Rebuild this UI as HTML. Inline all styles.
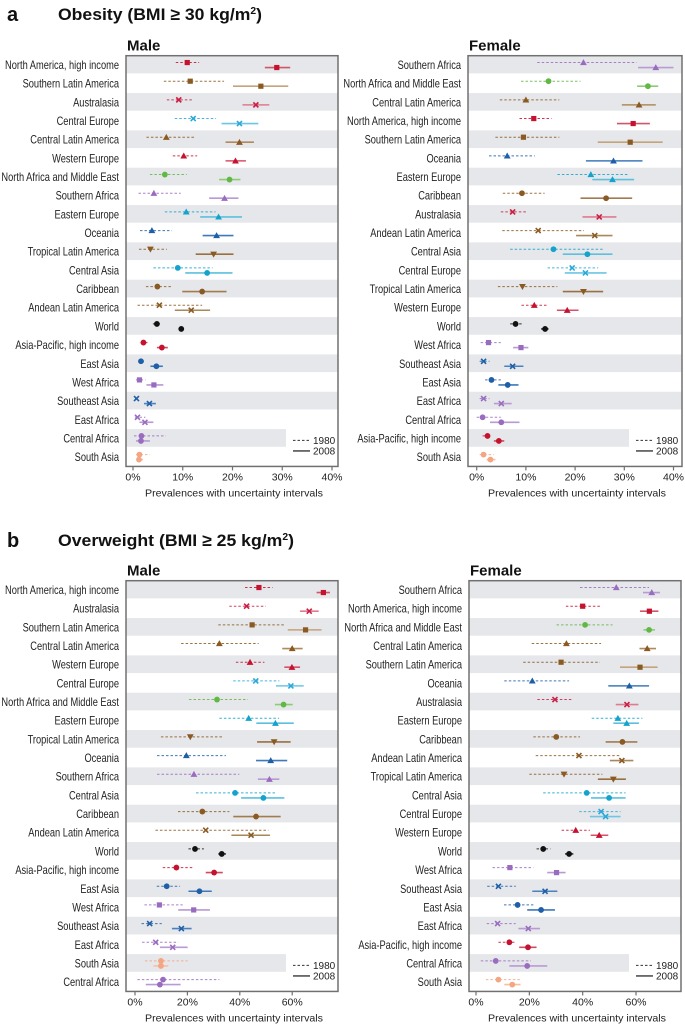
<!DOCTYPE html>
<html><head><meta charset="utf-8"><style>
html,body{margin:0;padding:0;background:#fff;}
svg{display:block;font-family:"Liberation Sans",sans-serif;}
</style></head><body>
<svg id="chart" width="685" height="1026" viewBox="0 0 685 1026" xmlns="http://www.w3.org/2000/svg">
<text x="7" y="21" font-size="20" font-weight="bold" fill="#111">a</text>
<text x="58" y="20" font-size="17" font-weight="bold" fill="#111" textLength="204" lengthAdjust="spacingAndGlyphs">Obesity (BMI ≥ 30 kg/m<tspan font-size="10" dy="-6">2</tspan><tspan dy="6">)</tspan></text>
<text x="7" y="547" font-size="20" font-weight="bold" fill="#111">b</text>
<text x="58" y="546" font-size="17" font-weight="bold" fill="#111" textLength="236" lengthAdjust="spacingAndGlyphs">Overweight (BMI ≥ 25 kg/m<tspan font-size="10" dy="-6">2</tspan><tspan dy="6">)</tspan></text>
</svg>
<script>
// ---------- data ----------
const maleObRegions = ["North America, high income","Southern Latin America","Australasia","Central Europe","Central Latin America","Western Europe","North Africa and Middle East","Southern Africa","Eastern Europe","Oceania","Tropical Latin America","Central Asia","Caribbean","Andean Latin America","World","Asia-Pacific, high income","East Asia","West Africa","Southeast Asia","East Africa","Central Africa","South Asia"];
const maleOb80 = [10.9,11.5,9.2,12.1,6.7,10.2,6.4,4.2,10.7,3.8,3.5,9.0,4.9,5.3,4.8,2.1,1.6,1.3,0.7,0.9,1.7,1.3];
const maleOb80lo = [8.6,6.2,6.8,8.4,2.7,8.0,3.4,1.1,6.4,1.4,1.2,4.1,2.6,0.9,4.0,1.5,1.2,0.6,0.4,0.4,0.2,0.6];
const maleOb80hi = [13.3,18.3,12.1,16.7,12.5,12.9,10.8,9.6,16.6,7.8,6.8,16.0,8.0,13.9,5.6,3.3,2.2,2.5,1.2,2.5,6.6,3.4];
const maleOb08 = [28.9,25.7,24.7,21.4,21.4,20.6,19.4,18.4,17.2,16.8,16.2,14.9,13.9,11.7,9.7,5.8,4.7,4.2,3.3,2.4,1.6,1.2];
const maleOb08lo = [26.5,20.1,22.0,17.8,18.6,18.6,17.3,15.3,13.5,14.0,12.6,10.5,9.9,8.4,9.3,4.8,3.5,2.7,2.2,1.3,0.6,0.7];
const maleOb08hi = [31.6,31.2,27.4,25.2,24.3,22.7,21.6,21.2,21.9,20.2,20.2,20.0,18.8,15.5,10.1,7.0,6.0,6.1,4.6,4.1,3.4,2.0];

const femObRegions = ["Southern Africa","North Africa and Middle East","Central Latin America","North America, high income","Southern Latin America","Oceania","Eastern Europe","Caribbean","Australasia","Andean Latin America","Central Asia","Central Europe","Tropical Latin America","Western Europe","World","West Africa","Southeast Asia","East Asia","East Africa","Central Africa","Asia-Pacific, high income","South Asia"];
const femOb80 = [21.7,14.6,10.0,11.6,9.5,6.2,23.2,9.2,7.3,12.5,15.6,19.4,9.3,11.7,7.9,2.4,1.4,3.0,1.4,1.2,2.2,1.4];
const femOb80lo = [12.3,9.0,4.7,8.7,3.8,2.5,16.4,5.3,4.9,5.2,6.8,14.4,4.3,9.1,6.8,0.8,0.6,1.7,0.6,0.0,1.2,0.6];
const femOb80hi = [32.5,21.1,16.8,15.2,16.8,11.8,30.9,13.8,10.0,21.8,25.9,24.7,16.4,14.2,9.3,4.9,2.6,4.9,2.6,4.9,2.9,3.5];
const femOb08 = [36.4,34.8,33.0,31.8,31.2,27.8,27.6,26.3,24.9,24.0,22.5,22.1,21.7,18.4,13.9,9.0,7.3,6.3,5.0,5.0,4.5,2.8];
const femOb08lo = [32.8,32.6,29.5,28.5,24.6,22.2,23.5,21.1,21.5,20.2,17.5,17.9,17.5,16.3,13.1,7.4,5.6,4.4,3.5,2.7,3.5,2.0];
const femOb08hi = [40.0,36.9,36.4,35.2,37.8,33.7,32.0,31.6,28.4,27.6,27.6,26.4,25.7,20.7,14.6,10.5,9.5,8.5,7.1,8.7,5.6,3.8];

const maleOwRegions = ["North America, high income","Australasia","Southern Latin America","Central Latin America","Western Europe","Central Europe","North Africa and Middle East","Eastern Europe","Tropical Latin America","Oceania","Southern Africa","Central Asia","Caribbean","Andean Latin America","World","Asia-Pacific, high income","East Asia","West Africa","Southeast Asia","East Africa","South Asia","Central Africa"];
const maleOw80 = [47.3,42.6,44.7,32.2,43.9,46.1,31.3,43.4,21.1,19.6,22.5,38.2,25.7,27.0,22.9,15.8,12.1,9.3,5.6,7.9,9.9,10.7];
const maleOw80lo = [42.0,36.0,31.8,17.6,38.5,37.5,20.6,32.2,9.9,8.4,8.4,23.3,16.4,7.8,20.4,10.6,8.3,3.6,2.5,2.7,3.8,0.9];
const maleOw80hi = [52.5,49.9,57.5,47.2,49.4,55.1,43.1,55.0,33.8,34.7,39.8,53.8,36.0,50.9,26.3,21.9,17.2,18.2,10.2,16.5,20.1,32.2];
const maleOw08 = [71.9,66.5,65.1,60.0,59.9,59.5,56.7,53.6,53.1,51.8,51.3,49.0,46.2,44.3,33.1,30.2,24.6,22.4,17.7,14.4,9.9,9.5];
const maleOw08lo = [69.3,63.0,58.3,56.2,57.0,53.8,53.4,46.3,46.6,46.2,46.9,40.5,37.5,36.8,31.8,27.0,20.4,16.5,14.1,9.5,7.0,4.1];
const maleOw08hi = [74.4,70.1,71.2,64.0,63.0,64.4,60.2,60.6,59.4,58.1,55.1,57.0,55.6,51.5,34.7,33.5,29.3,28.6,21.6,20.1,12.7,17.4];

const femOwRegions = ["Southern Africa","North America, high income","North Africa and Middle East","Central Latin America","Southern Latin America","Oceania","Australasia","Eastern Europe","Caribbean","Andean Latin America","Tropical Latin America","Central Asia","Central Europe","Western Europe","World","West Africa","Southeast Asia","East Asia","East Africa","Asia-Pacific, high income","Central Africa","South Asia"];
const femOw80 = [52.6,40.0,40.9,33.9,31.9,21.1,29.6,53.2,30.1,38.6,33.0,41.5,46.9,37.4,25.2,12.7,8.4,15.6,8.1,12.5,7.4,8.4];
const femOw80lo = [39.0,33.7,30.2,20.9,17.7,10.6,23.0,43.4,21.5,22.4,20.0,25.2,38.7,32.1,22.7,6.2,4.2,10.5,4.0,8.4,1.8,3.7];
const femOw80hi = [64.9,46.5,51.2,46.9,46.5,34.9,36.5,62.4,39.0,54.0,47.4,56.1,54.2,42.7,27.9,21.5,14.9,21.5,14.9,14.6,20.6,17.1];
const femOw08 = [65.9,65.0,64.9,64.2,61.5,57.5,56.6,56.5,54.9,54.7,51.5,49.9,48.6,46.2,34.9,30.2,25.9,24.4,19.6,19.5,19.2,13.6];
const femOw08lo = [62.6,61.5,62.8,61.3,54.0,49.6,52.4,51.5,48.6,50.2,45.7,43.1,42.7,43.0,33.4,26.7,21.1,19.2,15.9,16.2,12.5,10.6];
const femOw08hi = [69.0,68.4,67.1,67.5,68.1,64.9,60.9,61.1,60.5,59.0,56.2,56.1,54.2,49.6,36.5,33.6,30.5,29.6,24.0,22.7,26.7,16.7];

const obTicks = [0,10,20,30,40];
const owTicks = [0,20,40,60];

// region styles
const regionStyle = {
 "North America, high income":["#c4122f","#d0566a","square"],
 "Southern Latin America":["#8a5a22","#c4a47a","square"],
 "Australasia":["#c91f45","#e07a8e","x"],
 "Central Europe":["#2aa8d8","#6cc6e6","x"],
 "Central Latin America":["#8a5a22","#b08a5a","tri"],
 "Western Europe":["#c4122f","#d9506a","tri"],
 "North Africa and Middle East":["#62b844","#8ccc74","circle"],
 "Southern Africa":["#9a6cc0","#b89ad4","tri"],
 "Eastern Europe":["#14a3cc","#5cc0de","tri"],
 "Oceania":["#1f5fa8","#3f79ba","tri"],
 "Tropical Latin America":["#8a5a22","#9a7040","dtri"],
 "Central Asia":["#14a3cc","#5cc0de","circle"],
 "Caribbean":["#8a5a22","#a07c50","circle"],
 "Andean Latin America":["#8a5a22","#a88758","x"],
 "World":["#111111","#333333","circle"],
 "Asia-Pacific, high income":["#c4122f","#d24a62","circle"],
 "East Asia":["#1f5fa8","#3f79ba","circle"],
 "West Africa":["#9a6cc0","#b89ad4","square"],
 "Southeast Asia":["#1f5fa8","#4a82c0","x"],
 "East Africa":["#9a6cc0","#b89ad4","x"],
 "Central Africa":["#9a6cc0","#b89ad4","circle"],
 "South Asia":["#f4a582","#f7bfa4","circle"]
};

const NS="http://www.w3.org/2000/svg";
const svg=document.getElementById('chart');
function mk(tag,attrs,parent){const e=document.createElementNS(NS,tag);for(const k in attrs)e.setAttribute(k,attrs[k]);(parent||svg).appendChild(e);return e;}

function marker(g,type,cx,cy,col){
  let e;
  if(type==="square"){e=mk('rect',{x:cx-2.6,y:cy-2.6,width:5.2,height:5.2,fill:col},g);}
  else if(type==="circle"){e=mk('circle',{cx:cx,cy:cy,r:2.9,fill:col},g);}
  else if(type==="tri"){e=mk('polygon',{points:`${cx},${cy-3.4} ${cx-3.4},${cy+2.6} ${cx+3.4},${cy+2.6}`,fill:col},g);}
  else if(type==="dtri"){e=mk('polygon',{points:`${cx},${cy+3.4} ${cx-3.4},${cy-2.6} ${cx+3.4},${cy-2.6}`,fill:col},g);}
  else {e=mk('path',{d:`M${cx-2.5},${cy-2.5}L${cx+2.5},${cy+2.5}M${cx+2.5},${cy-2.5}L${cx-2.5},${cy+2.5}`,stroke:col,'stroke-width':1.6,fill:'none'},g);}
  return e;
}

function panel(cfg){
  const g=mk('g',{});
  
  
  const rowH=18.67, top=cfg.top, L=cfg.left, R=cfg.right, n=cfg.regions.length;
  const bottom=top+rowH*n;
  const xs=v=>cfg.x0+v*cfg.k;
  // header
  const h=mk('text',{x:L+1,y:top-5,'font-size':15,'font-weight':'bold',fill:'#111'},g);
  h.textContent=cfg.header;
  
  
  // bands
  for(let i=0;i<n;i+=2){
    const w=(i===n-2)?(cfg.legendX-L):(R-L);
    const b=mk('rect',{x:L,y:top+i*rowH,width:w,height:rowH-1,fill:'#e6e7ea'},g);
    
    
  }
  // labels (condensed)
  const lg=mk('g',{transform:`translate(${L-7},0) scale(0.8,1)`},g);
  cfg.regions.forEach((r,i)=>{
    const t=mk('text',{x:0,y:top+i*rowH+rowH/2+4,'font-size':11.6,'text-anchor':'end',fill:'#222'},lg);
    t.textContent=r;
    
    
  });
  // series
  cfg.regions.forEach((r,i)=>{
    const st=regionStyle[r];const cy=top+i*rowH+rowH/2;
    const rg=mk('g',{},g);
    
    
    const y1=cy-2.5,y2=cy+2.5;
    const l1=mk('line',{x1:xs(cfg.lo80[i]),x2:xs(cfg.hi80[i]),y1:y1,y2:y1,stroke:st[0],'stroke-width':1,'stroke-dasharray':'2.5,2',opacity:0.85},rg);
    
    
    const l2=mk('line',{x1:xs(cfg.lo08[i]),x2:xs(cfg.hi08[i]),y1:y2,y2:y2,stroke:st[1],'stroke-width':1.6},rg);
    
    
    const m1=marker(rg,st[2],xs(cfg.m80[i]),y1,st[0]);
    
    
    const m2=marker(rg,st[2],xs(cfg.m08[i]),y2,st[0]);
    
    
  });
  // frame
  const f=mk('rect',{x:L,y:top,width:R-L,height:bottom-top,fill:'none',stroke:'#707070','stroke-width':1.5},g);
  
  
  // ticks
  cfg.ticks.forEach(v=>{
    const tk=mk('line',{x1:xs(v),x2:xs(v),y1:bottom,y2:bottom+4,stroke:'#707070','stroke-width':1.2},g);
    
    
    const tl=mk('text',{x:xs(v),y:bottom+14,'font-size':10.5,'text-anchor':'middle',fill:'#222'},g);
    tl.textContent=v+'%';
    
    
  });
  const xl=mk('text',{x:(L+R)/2+2,y:bottom+30,'font-size':10.5,'text-anchor':'middle',fill:'#222',textLength:178,lengthAdjust:'spacingAndGlyphs'},g);
  xl.textContent='Prevalences with uncertainty intervals';
  
  
  // legend
  const ly1=top+(n-2)*rowH+rowH/2+2, ly2=ly1+10.5;
  const lx=cfg.legendX+7;
  const a=mk('line',{x1:lx,x2:lx+17,y1:ly1,y2:ly1,stroke:'#333','stroke-width':1,'stroke-dasharray':'2.5,2'},g);
  
  
  const at=mk('text',{x:lx+20,y:ly1+3.5,'font-size':10,fill:'#222'},g);at.textContent='1980';
  
  
  const b2=mk('line',{x1:lx,x2:lx+17,y1:ly2,y2:ly2,stroke:'#555','stroke-width':1.6},g);
  
  
  const bt=mk('text',{x:lx+20,y:ly2+3.5,'font-size':10,fill:'#222'},g);bt.textContent='2008';
  
  
}

panel({name:'obesity-male-panel',header:'Male',top:55.7,left:126,right:338,legendX:286,x0:133,k:4.975,ticks:obTicks,
  regions:maleObRegions,m80:maleOb80,lo80:maleOb80lo,hi80:maleOb80hi,m08:maleOb08,lo08:maleOb08lo,hi08:maleOb08hi});
panel({name:'obesity-female-panel',header:'Female',top:55.7,left:468,right:682,legendX:629,x0:476.7,k:4.92,ticks:obTicks,
  regions:femObRegions,m80:femOb80,lo80:femOb80lo,hi80:femOb80hi,m08:femOb08,lo08:femOb08lo,hi08:femOb08hi});
panel({name:'overweight-male-panel',header:'Male',top:580.7,left:126,right:338,legendX:286,x0:135,k:2.62,ticks:owTicks,
  regions:maleOwRegions,m80:maleOw80,lo80:maleOw80lo,hi80:maleOw80hi,m08:maleOw08,lo08:maleOw08lo,hi08:maleOw08hi});
panel({name:'overweight-female-panel',header:'Female',top:580.7,left:469,right:681,legendX:629,x0:476,k:2.667,ticks:owTicks,
  regions:femOwRegions,m80:femOw80,lo80:femOw80lo,hi80:femOw80hi,m08:femOw08,lo08:femOw08lo,hi08:femOw08hi});
</script>
</body></html>
